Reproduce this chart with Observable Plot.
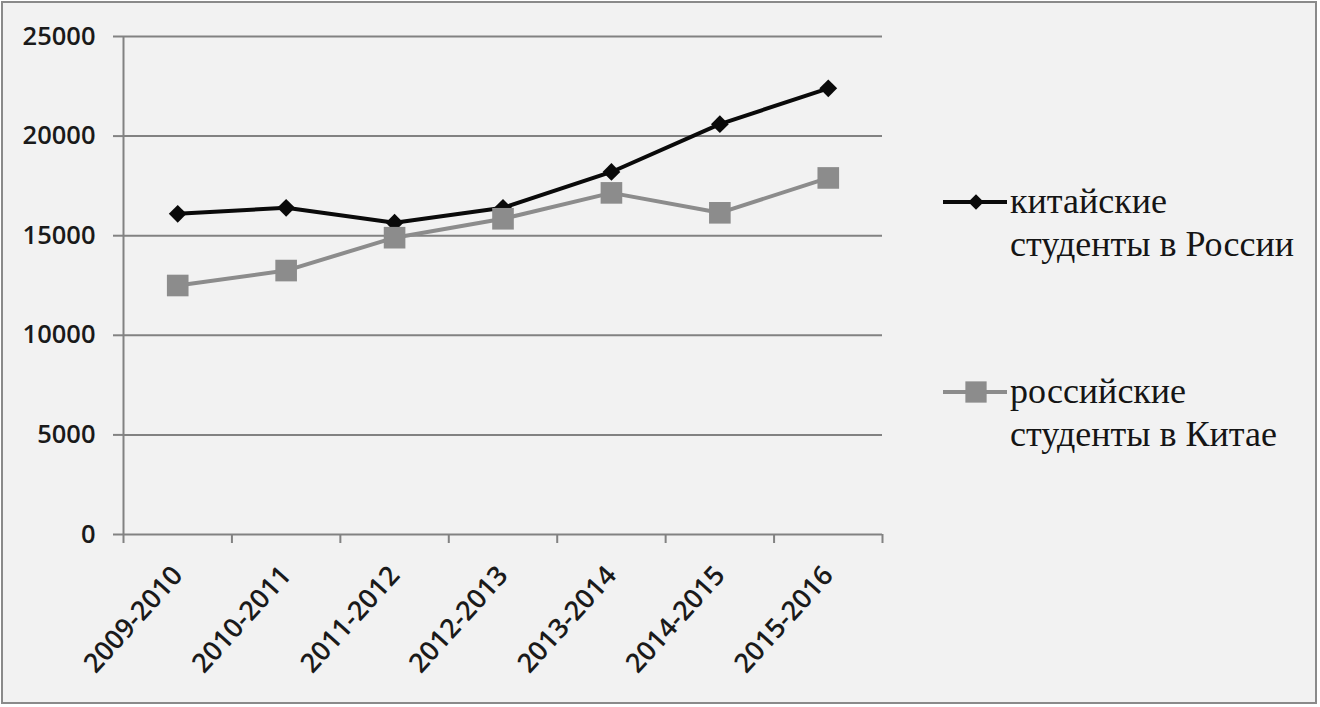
<!DOCTYPE html>
<html>
<head>
<meta charset="utf-8">
<script src="https://cdn.jsdelivr.net/npm/d3@7"></script>
<script src="https://cdn.jsdelivr.net/npm/@observablehq/plot@0.6"></script>
<style>
  html, body { margin: 0; padding: 0; background: #ffffff; }
  #wrap { position: relative; width: 1320px; height: 707px; overflow: hidden; }
  #frame { position: absolute; left: 1px; top: 1px; width: 1316px; height: 703px; box-sizing: border-box; border: 2px solid #8a8a8a; background: #f2f2f2; }
  #chart { position: absolute; left: 0; top: 0; }
  .leg { position: absolute; left: 942px; font-family: "Liberation Serif", "Tinos", "Times New Roman", Times, "DejaVu Serif", "Noto Serif", "FreeSerif", serif; font-size: 36px; line-height: 43px; color: #151515; }
  .leg svg { position: absolute; left: 0; top: 0; }
  .leg .txt { position: absolute; left: 68px; top: 0; white-space: nowrap; font-family: inherit; }
</style>
</head>
<body>
<div id="wrap">
  <div id="frame"></div>
  <div id="chart"></div>
  <div id="legend"></div>
</div>
<script>
const categories = ["2009-2010", "2010-2011", "2011-2012", "2012-2013", "2013-2014", "2014-2015", "2015-2016"];
const chineseInRussia = [16100, 16400, 15650, 16400, 18200, 20600, 22400];
const russiansInChina = [12500, 13250, 14900, 15850, 17150, 16150, 17900];
const yTicks = [0, 5000, 10000, 15000, 20000, 25000];
const seriesNames = [["китайские", "студенты в России"], ["российские", "студенты в Китае"]];

const black = "#0a0a0a";
const gray = "#8c8c8c";
const gridColor = "#828282";

const dataBlack = categories.map((c, i) => ({ i: i + 0.5, v: chineseInRussia[i] }));
const dataGray = categories.map((c, i) => ({ i: i + 0.5, v: russiansInChina[i] }));
const centers = categories.map((c, i) => i + 0.5);
const bounds = d3.range(categories.length + 1);

const plot = Plot.plot({
  width: 1320,
  height: 707,
  marginLeft: 123,
  marginRight: 438,
  marginTop: 36,
  marginBottom: 173,
  style: { background: "transparent", fontFamily: "'Open Sans', sans-serif", color: "#1a1a1a" },
  x: { domain: [0, categories.length] },
  y: { domain: [0, 25000] },
  marks: [
    Plot.gridY(yTicks, { stroke: gridColor, strokeOpacity: 1, strokeWidth: 2 }),
    Plot.axisY(yTicks, { tickSize: 10, tickPadding: 18, stroke: gridColor, strokeWidth: 2, fontSize: 25.5, fontWeight: 600, fill: "#1a1a1a", label: null, tickFormat: d => String(d) }),
    Plot.ruleX([0], { stroke: gridColor, strokeWidth: 2 }),
    Plot.axisX(bounds, { tickSize: 9, stroke: gridColor, strokeWidth: 2, tickFormat: () => "", label: null }),
    Plot.axisX(centers, { tickSize: 0, tickPadding: 36, tickRotate: -48, fontSize: 27, fontWeight: 600, fill: "#1a1a1a", label: null, tickFormat: d => categories[Math.floor(d)] }),
    Plot.line(dataBlack, { x: "i", y: "v", stroke: black, strokeWidth: 4 }),
    Plot.dot(dataBlack, { x: "i", y: "v", symbol: "diamond2", r: 8, fill: black, stroke: "none" }),
    Plot.line(dataGray, { x: "i", y: "v", stroke: gray, strokeWidth: 4 }),
    Plot.dot(dataGray, { x: "i", y: "v", symbol: "square", r: 12.2, fill: gray, stroke: "none" })
  ]
});
document.getElementById("chart").appendChild(plot);

// Legend
const legend = document.getElementById("legend");
const legendTops = [180, 370];
seriesNames.forEach((lines, k) => {
  const div = document.createElement("div");
  div.className = "leg";
  div.style.top = legendTops[k] + "px";
  const color = k === 0 ? black : gray;
  const sw = d3.create("svg").attr("width", 66).attr("height", 44);
  sw.append("line").attr("x1", 1).attr("x2", 65).attr("y1", 22).attr("y2", 22)
    .attr("stroke", color).attr("stroke-width", 4);
  const sym = k === 0 ? d3.symbolDiamond2 : d3.symbolSquare;
  const size = k === 0 ? Math.PI * 7 * 7 : Math.PI * 12 * 12;
  sw.append("path").attr("d", d3.symbol(sym, size)()).attr("transform", "translate(34,22)").attr("fill", color);
  div.appendChild(sw.node());
  const txt = document.createElement("div");
  txt.className = "txt";
  txt.innerHTML = lines.join("<br>");
  div.appendChild(txt);
  legend.appendChild(div);
});
</script>
</body>
</html>
